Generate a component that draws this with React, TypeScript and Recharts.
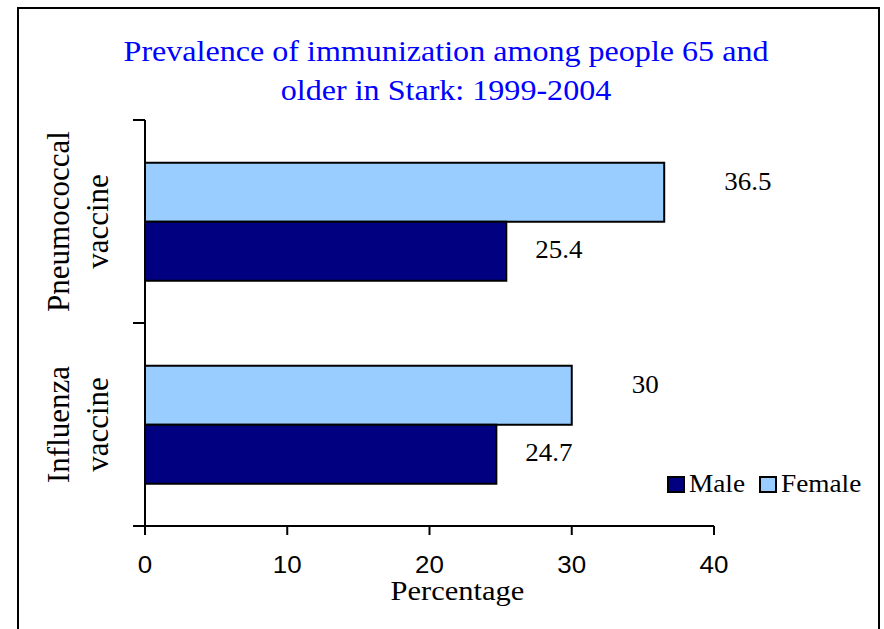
import React from "react";
import { BarChart, Bar, XAxis, YAxis, LabelList, Label } from "recharts";

const categories = ["Pneumococcal vaccine", "Influenza vaccine"];
const maleValues = [25.4, 24.7];
const femaleValues = [36.5, 30];
const xTicks = [0, 10, 20, 30, 40];
const titleLines = ["Prevalence of immunization among people 65 and", "older in Stark: 1999-2004"];
const legendItems = [
  { label: "Male", color: "#000080" },
  { label: "Female", color: "#99CCFF" },
];

const data = categories.map((category, i) => ({
  category,
  male: maleValues[i],
  female: femaleValues[i],
}));

const W = 884;
const H = 629;
const PLOT_LEFT = 145;
const PLOT_TOP = 120;
const PLOT_RIGHT = 714;
const PLOT_BOTTOM = 526;
const PLOT_H = PLOT_BOTTOM - PLOT_TOP;
const X_AXIS_H = 60;
const LEGEND_X = [667, 759];

const serif = "'Liberation Serif', 'Times New Roman', serif";
const sans = "'Liberation Sans', Arial, sans-serif";

const SText = ({ x, y, size, sx = 1, anchor = "start", font = serif, fill = "#000", children }: any) => (
  <text
    transform={`translate(${x} ${y}) scale(${sx} 1)`}
    x={0}
    y={0}
    textAnchor={anchor}
    fontFamily={font}
    fontSize={size}
    fill={fill}
  >
    {children}
  </text>
);

const CategoryTick = (props: any) => {
  const { y, payload, index } = props;
  const half = PLOT_H / categories.length / 2;
  const [l1, ...rest] = String(payload.value).split(" ");
  const l2 = rest.join(" ");
  return (
    <g>
      <line x1={PLOT_LEFT - 12} x2={PLOT_LEFT} y1={y - half} y2={y - half} stroke="#000" strokeWidth={2} />
      {index === categories.length - 1 && (
        <line x1={PLOT_LEFT - 12} x2={PLOT_LEFT} y1={y + half} y2={y + half} stroke="#000" strokeWidth={2} />
      )}
      {[l1, l2].map((t, k) => {
        const cx = k === 0 ? 58 : 97;
        return (
          <text
            key={k}
            x={cx}
            y={y}
            transform={`rotate(-90 ${cx} ${y})`}
            textAnchor="middle"
            dominantBaseline="central"
            fontFamily={serif}
            fontSize={31}
            fill="#000"
          >
            {t}
          </text>
        );
      })}
    </g>
  );
};

const XTick = (props: any) => {
  const { x, payload } = props;
  return (
    <SText x={x} y={PLOT_BOTTOM + 47} size={24} sx={1.08} anchor="middle" font={sans}>
      {payload.value}
    </SText>
  );
};

const valueLabel = (dx: number, dy: number) => (props: any) => {
  const { x, y, width, height, value } = props;
  return (
    <SText x={x + width + dx} y={y + height / 2 + dy} size={25} sx={1.08}>
      {value}
    </SText>
  );
};

export default function App() {
  return (
    <div style={{ position: "absolute", left: 0, top: 0, width: W, height: H, overflow: "hidden", background: "#fff" }}>
      <BarChart
        width={W}
        height={H}
        data={data}
        layout="vertical"
        barGap={0}
        barCategoryGap="21%"
        margin={{ top: PLOT_TOP, right: W - PLOT_RIGHT, bottom: H - PLOT_BOTTOM - X_AXIS_H, left: 0 }}
        style={{ position: "absolute", left: 0, top: 0 }}
      >
        <XAxis
          type="number"
          domain={[0, 40]}
          ticks={xTicks}
          height={X_AXIS_H}
          axisLine={{ stroke: "#000", strokeWidth: 2 }}
          tickLine={{ stroke: "#000", strokeWidth: 2 }}
          tickSize={9}
          tick={<XTick />}
        >
          <Label
            content={(p: any) => {
              const vb = p.viewBox;
              return (
                <SText x={vb.x + vb.width / 2 + 28} y={PLOT_BOTTOM + 74} size={27} sx={1.13} anchor="middle">
                  Percentage
                </SText>
              );
            }}
          />
        </XAxis>
        <YAxis
          type="category"
          dataKey="category"
          width={PLOT_LEFT}
          axisLine={{ stroke: "#000", strokeWidth: 2 }}
          tickLine={false}
          tick={<CategoryTick />}
          interval={0}
        />
        <Bar dataKey="female" name="Female" fill={legendItems[1].color} stroke="#000" strokeWidth={2} isAnimationActive={false}>
          <LabelList dataKey="female" content={valueLabel(60, -2)} />
        </Bar>
        <Bar dataKey="male" name="Male" fill={legendItems[0].color} stroke="#000" strokeWidth={2} isAnimationActive={false}>
          <LabelList dataKey="male" content={valueLabel(29, 7)} />
        </Bar>
      </BarChart>
      <svg width={W} height={H} style={{ position: "absolute", left: 0, top: 0, pointerEvents: "none" }}>
        <rect x={18} y={8} width={861} height={700} fill="none" stroke="#000" strokeWidth={2} />
        {titleLines.map((t, i) => (
          <SText key={i} x={446} y={61 + i * 39} size={30} sx={1.07} anchor="middle" fill="#0000FF">
            {t}
          </SText>
        ))}
        {legendItems.map((it, i) => (
          <g key={it.label}>
            <rect x={LEGEND_X[i] + 1} y={477} width={16} height={15} fill={it.color} stroke="#000" strokeWidth={2} />
            <SText x={LEGEND_X[i] + 22} y={492} size={26} sx={1.05}>
              {it.label}
            </SText>
          </g>
        ))}
      </svg>
    </div>
  );
}
